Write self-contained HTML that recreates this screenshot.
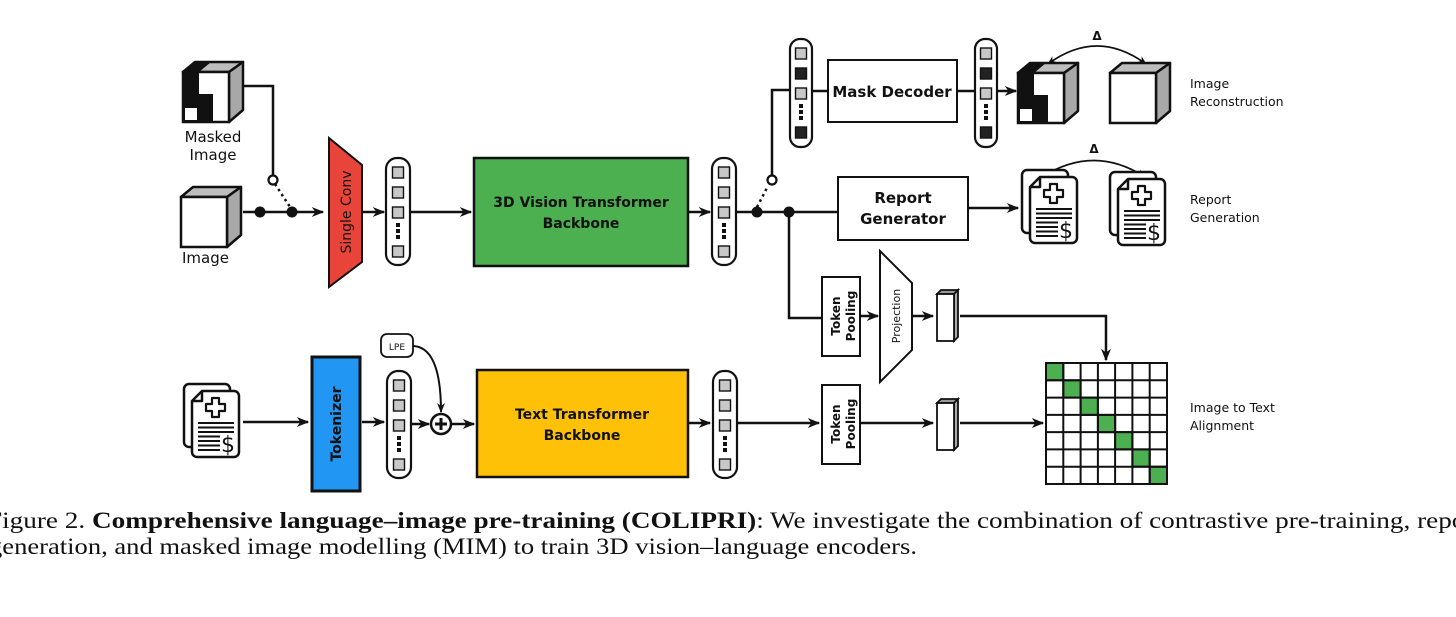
<!DOCTYPE html>
<html><head><meta charset="utf-8"><style>
html,body{margin:0;padding:0;background:#fff;}
svg{display:block;}
.s{font-family:"DejaVu Sans","Liberation Sans",sans-serif;}
</style></head><body>
<svg width="1456" height="617" viewBox="0 0 1456 617" xmlns="http://www.w3.org/2000/svg">
<defs>
<marker id="ar" viewBox="0 0 10 10" refX="9" refY="5" markerWidth="5" markerHeight="5" orient="auto"><path d="M0,1 L10,5 L0,9 L3,5 z" fill="#111"/></marker>
<marker id="ars" viewBox="0 0 10 10" refX="1" refY="5" markerWidth="5" markerHeight="5" orient="auto"><path d="M10,1 L0,5 L10,9 L7,5 z" fill="#111"/></marker>
<g id="cube">
<polygon points="0,10 12,0 60,0 46,10" fill="#bdbdbd" stroke="#111" stroke-width="2.5" stroke-linejoin="round"/>
<polygon points="46,10 60,0 60,48 46,60" fill="#a8a8a8" stroke="#111" stroke-width="2.5" stroke-linejoin="round"/>
<rect x="0" y="10" width="46" height="50" fill="#fff" stroke="#111" stroke-width="2.5"/>
</g>
<g id="mcube">
<polygon points="0,10 12,0 60,0 46,10" fill="#bdbdbd" stroke="#111" stroke-width="2.5" stroke-linejoin="round"/>
<polygon points="0,10 12,0 28,0 16,10" fill="#111"/>
<polygon points="46,10 60,0 60,48 46,60" fill="#a8a8a8" stroke="#111" stroke-width="2.5" stroke-linejoin="round"/>
<rect x="0" y="10" width="46" height="50" fill="#fff" stroke="#111" stroke-width="2.5"/>
<path d="M0,10 H16 V60 H0 Z" fill="#111"/>
<path d="M16,10 V32 H30 V60 H16 Z" fill="#111"/>
<rect x="2" y="46" width="12" height="12" fill="#fff"/>
</g>
<g id="doc" fill="none" stroke="#111" stroke-width="2.5" stroke-linejoin="round">
<rect x="0" y="0" width="46" height="63" rx="5" fill="#fff"/>
<path d="M8,17 L18,7 H50 a5,5 0 0 1 5,5 V68 a5,5 0 0 1 -5,5 H13 a5,5 0 0 1 -5,-5 Z" fill="#fff"/>
<path d="M8,17 H18 V7"/>
<path d="M28,14 h7 v6 h6 v7 h-6 v6 h-7 v-6 h-6 v-7 h6 z" stroke-width="2.2"/>
<path d="M14,39 H50 M14,43.5 H50 M14,48 H50 M14,52.5 H36 M14,57 H36 M14,61.5 H36 M14,66 H36" stroke-width="2"/>
<text x="37" y="68" font-family="DejaVu Sans,sans-serif" font-size="22" fill="#111" stroke="none">$</text>
</g>
<g id="col">
<rect x="0" y="0" width="24" height="107" rx="11" fill="#fff" stroke="#111" stroke-width="2.2"/>
<rect x="6.5" y="9" width="11" height="11" fill="#c8c8c8" stroke="#111" stroke-width="1.4"/>
<rect x="6.5" y="29" width="11" height="11" fill="#c8c8c8" stroke="#111" stroke-width="1.4"/>
<rect x="6.5" y="49" width="11" height="11" fill="#c8c8c8" stroke="#111" stroke-width="1.4"/>
<rect x="10" y="65" width="4" height="4" fill="#111"/><rect x="10" y="71" width="4" height="4" fill="#111"/><rect x="10" y="77" width="4" height="4" fill="#111"/>
<rect x="6.5" y="88" width="11" height="11" fill="#c8c8c8" stroke="#111" stroke-width="1.4"/>
</g>
<g id="colm">
<rect x="0" y="0" width="22" height="108" rx="10" fill="#fff" stroke="#111" stroke-width="2.2"/>
<rect x="5.5" y="9" width="11" height="11" fill="#c8c8c8" stroke="#111" stroke-width="1.4"/>
<rect x="5.5" y="29" width="11" height="11" fill="#222" stroke="#111" stroke-width="1.4"/>
<rect x="5.5" y="49" width="11" height="11" fill="#c8c8c8" stroke="#111" stroke-width="1.4"/>
<rect x="9" y="65" width="4" height="4" fill="#111"/><rect x="9" y="71" width="4" height="4" fill="#111"/><rect x="9" y="77" width="4" height="4" fill="#111"/>
<rect x="5.5" y="88" width="11" height="11" fill="#222" stroke="#111" stroke-width="1.4"/>
</g>
<g id="vec">
<polygon points="0,4 4,0 21,0 17,4" fill="#999" stroke="#111" stroke-width="1.8"/>
<polygon points="17,4 21,0 21,47 17,51" fill="#aaa" stroke="#111" stroke-width="1.8"/>
<rect x="0" y="4" width="17" height="47" fill="#fff" stroke="#111" stroke-width="1.8"/>
</g>
</defs>

<g fill="none" stroke="#111" stroke-width="2.5">
<path d="M243,86 H273 V175"/>
<path d="M275,184 L292,210" stroke-dasharray="2.5,3.5"/>
<path d="M243,212 H323" marker-end="url(#ar)"/>
<path d="M362,212 H384" marker-end="url(#ar)"/>
<path d="M410,212 H471" marker-end="url(#ar)"/>
<path d="M688,212 H710" marker-end="url(#ar)"/>
<path d="M736,212 H838"/>
<path d="M772,176 V90 H790"/>
<path d="M757,207 L768,186" stroke-dasharray="2.5,3.5"/>
<path d="M812,91 H828 M957,91 H975"/>
<path d="M997,91 H1016" marker-end="url(#ar)"/>
<path d="M968,208 H1018" marker-end="url(#ar)"/>
<path d="M789,212 V318 H822"/>
<path d="M860,316 H878" marker-end="url(#ar)"/>
<path d="M912,316 H933" marker-end="url(#ar)"/>
<path d="M960,316 H1106 V360" marker-end="url(#ar)"/>
<path d="M1048,64 Q1097,28 1146,64" stroke-width="1.8" marker-start="url(#ars)" marker-end="url(#ar)"/>
<path d="M1042,177 Q1094,144 1145,177" stroke-width="1.8" marker-start="url(#ars)" marker-end="url(#ar)"/>
<path d="M243,422 H308" marker-end="url(#ar)"/>
<path d="M362,422 H384" marker-end="url(#ar)"/>
<path d="M410,424 H429" marker-end="url(#ar)"/>
<path d="M451,424 H474" marker-end="url(#ar)"/>
<path d="M412,346 Q441,346 441,412" stroke-width="2" marker-end="url(#ar)"/>
<path d="M688,423 H710" marker-end="url(#ar)"/>
<path d="M736,423 H819" marker-end="url(#ar)"/>
<path d="M860,423 H933" marker-end="url(#ar)"/>
<path d="M960,423 H1043" marker-end="url(#ar)"/>
</g>
<circle cx="260" cy="212" r="5.5" fill="#111"/>
<circle cx="292" cy="212" r="5.5" fill="#111"/>
<circle cx="273" cy="180" r="4.5" fill="#fff" stroke="#111" stroke-width="2.2"/>
<circle cx="757" cy="212" r="5.5" fill="#111"/>
<circle cx="789" cy="212" r="5.5" fill="#111"/>
<circle cx="772" cy="180" r="4.5" fill="#fff" stroke="#111" stroke-width="2.2"/>

<use href="#mcube" x="183" y="62"/>
<use href="#cube" x="181" y="187"/>
<use href="#mcube" x="1018" y="63"/>
<use href="#cube" x="1110" y="63"/>

<text class="s" x="213" y="142" font-size="15" text-anchor="middle" fill="#111">Masked</text>
<text class="s" x="213" y="160" font-size="15" text-anchor="middle" fill="#111">Image</text>
<text class="s" x="182" y="263" font-size="15" fill="#111">Image</text>

<polygon points="329,138 362,165 362,262 329,287" fill="#e8443a" stroke="#111" stroke-width="2"/>
<text class="s" x="0" y="0" font-size="14" fill="#111" text-anchor="middle" transform="translate(351,212) rotate(-90)">Single Conv</text>

<use href="#col" x="386" y="158"/>
<rect x="474" y="158" width="214" height="108" fill="#4caf50" stroke="#111" stroke-width="2.5"/>
<text class="s" x="581" y="207" font-size="14" font-weight="bold" text-anchor="middle" fill="#111">3D Vision Transformer</text>
<text class="s" x="581" y="228" font-size="14" font-weight="bold" text-anchor="middle" fill="#111">Backbone</text>
<use href="#col" x="712" y="158"/>

<use href="#colm" x="790" y="39"/>
<rect x="828" y="60" width="129" height="62" fill="#fff" stroke="#111" stroke-width="2"/>
<text class="s" x="892" y="97" font-size="15" font-weight="bold" text-anchor="middle" fill="#111">Mask Decoder</text>
<use href="#colm" x="975" y="39"/>
<text class="s" x="1097" y="40" font-size="12" font-weight="bold" text-anchor="middle" fill="#111">Δ</text>
<text class="s" x="1094" y="153" font-size="12" font-weight="bold" text-anchor="middle" fill="#111">Δ</text>

<rect x="838" y="177" width="130" height="63" fill="#fff" stroke="#111" stroke-width="2"/>
<text class="s" x="903" y="203" font-size="15" font-weight="bold" text-anchor="middle" fill="#111">Report</text>
<text class="s" x="903" y="224" font-size="15" font-weight="bold" text-anchor="middle" fill="#111">Generator</text>
<use href="#doc" x="1022" y="170"/>
<use href="#doc" x="1110" y="172"/>

<text class="s" x="1190" y="88" font-size="12.5" fill="#111">Image</text>
<text class="s" x="1190" y="106" font-size="12.5" fill="#111">Reconstruction</text>
<text class="s" x="1190" y="204" font-size="12.5" fill="#111">Report</text>
<text class="s" x="1190" y="222" font-size="12.5" fill="#111">Generation</text>
<text class="s" x="1190" y="412" font-size="12.5" fill="#111">Image to Text</text>
<text class="s" x="1190" y="430" font-size="12.5" fill="#111">Alignment</text>

<rect x="822" y="277" width="38" height="79" fill="#fff" stroke="#111" stroke-width="2"/>
<text class="s" font-size="12" font-weight="bold" text-anchor="middle" fill="#111" transform="translate(845,316) rotate(-90)"><tspan x="0" y="-5">Token</tspan><tspan x="0" y="10">Pooling</tspan></text>
<polygon points="880,251 912,283 912,350 880,382" fill="#fff" stroke="#111" stroke-width="2"/>
<text class="s" font-size="11" text-anchor="middle" fill="#111" transform="translate(900,316) rotate(-90)">Projection</text>
<use href="#vec" x="937" y="290"/>

<rect x="822" y="385" width="38" height="79" fill="#fff" stroke="#111" stroke-width="2"/>
<text class="s" font-size="12" font-weight="bold" text-anchor="middle" fill="#111" transform="translate(845,424) rotate(-90)"><tspan x="0" y="-5">Token</tspan><tspan x="0" y="10">Pooling</tspan></text>
<use href="#vec" x="937" y="399"/>

<g stroke="#111" stroke-width="2">
<rect x="1046" y="363" width="121" height="121" fill="#fff"/>
<rect x="1046" y="363" width="17.3" height="17.3" fill="#4caf50"/>
<rect x="1063.3" y="380.3" width="17.3" height="17.3" fill="#4caf50"/>
<rect x="1080.6" y="397.6" width="17.3" height="17.3" fill="#4caf50"/>
<rect x="1097.9" y="414.9" width="17.3" height="17.3" fill="#4caf50"/>
<rect x="1115.1" y="432.1" width="17.3" height="17.3" fill="#4caf50"/>
<rect x="1132.4" y="449.4" width="17.3" height="17.3" fill="#4caf50"/>
<rect x="1149.7" y="466.7" width="17.3" height="17.3" fill="#4caf50"/>
<path d="M1063.3,363V484M1080.6,363V484M1097.9,363V484M1115.1,363V484M1132.4,363V484M1149.7,363V484M1046,380.3H1167M1046,397.6H1167M1046,414.9H1167M1046,432.1H1167M1046,449.4H1167M1046,466.7H1167" fill="none"/>
</g>

<use href="#doc" x="184" y="384"/>
<rect x="312" y="357" width="48" height="134" fill="#2196f3" stroke="#111" stroke-width="3"/>
<text class="s" font-size="14" font-weight="bold" text-anchor="middle" fill="#111" transform="translate(341,424) rotate(-90)">Tokenizer</text>
<use href="#col" x="387" y="371"/>
<rect x="381" y="334" width="32" height="23" rx="6" fill="#fff" stroke="#111" stroke-width="1.8"/>
<text class="s" x="397" y="350" font-size="9" text-anchor="middle" fill="#111">LPE</text>
<circle cx="441" cy="424" r="10" fill="#fff" stroke="#111" stroke-width="2.5"/>
<path d="M441,418 V430 M435,424 H447" stroke="#111" stroke-width="3"/>
<rect x="477" y="370" width="211" height="107" fill="#ffc107" stroke="#111" stroke-width="2.5"/>
<text class="s" x="582" y="419" font-size="14" font-weight="bold" text-anchor="middle" fill="#111">Text Transformer</text>
<text class="s" x="582" y="440" font-size="14" font-weight="bold" text-anchor="middle" fill="#111">Backbone</text>
<use href="#col" x="713" y="371"/>

<text x="-13" y="528" font-family="Liberation Serif,serif" font-size="23" fill="#111" textLength="1495" lengthAdjust="spacingAndGlyphs">Figure 2. <tspan font-weight="bold">Comprehensive language–image pre-training (COLIPRI)</tspan>: We investigate the combination of contrastive pre-training, report</text>
<text x="-11" y="554" font-family="Liberation Serif,serif" font-size="23" fill="#111" textLength="928" lengthAdjust="spacingAndGlyphs">generation, and masked image modelling (MIM) to train 3D vision–language encoders.</text>
</svg>
</body></html>
